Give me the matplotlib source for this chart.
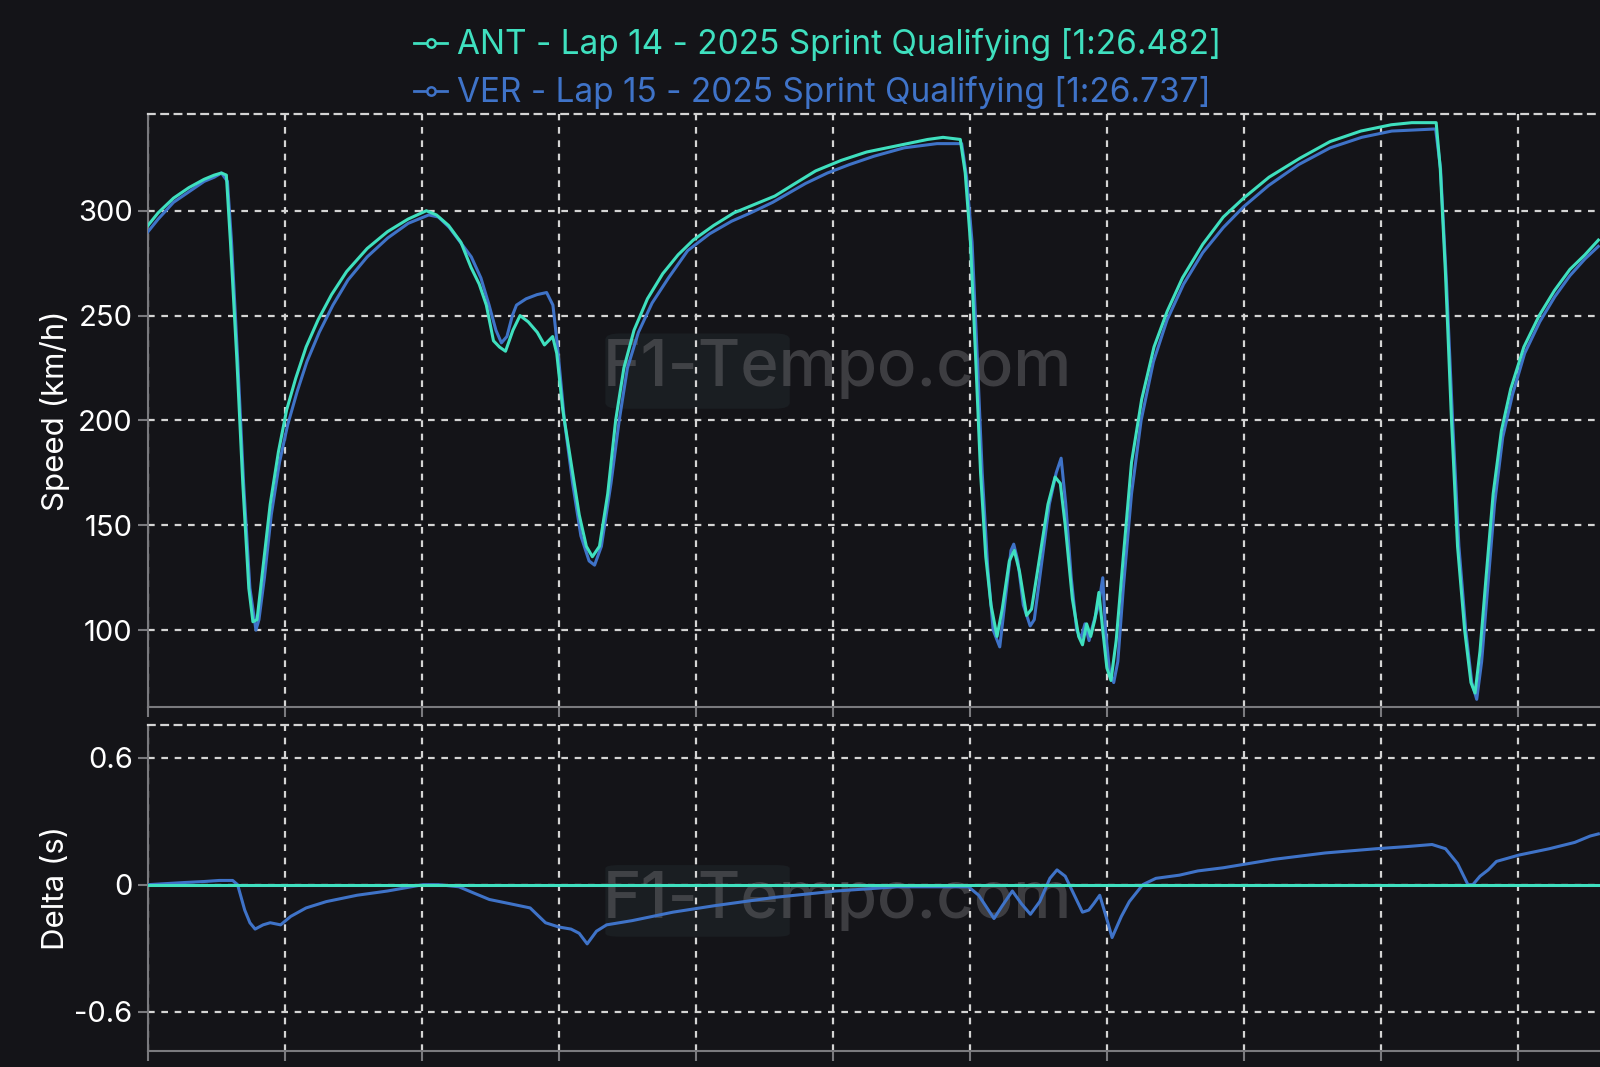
import matplotlib
matplotlib.use("Agg")
import matplotlib.pyplot as plt
from matplotlib.lines import Line2D
from matplotlib.patches import FancyBboxPatch

plt.rcParams['font.family'] = ['Inter', 'DejaVu Sans']

BG = "#141418"
GRID = "#d4d4d4"
SPINE = "#7a7a7e"
ANT_COLOR = "#3fe0bf"
VER_COLOR = "#3f73c8"

ant_label = "ANT - Lap 14 - 2025 Sprint Qualifying [1:26.482]"
ver_label = "VER - Lap 15 - 2025 Sprint Qualifying [1:26.737]"

# distance (m) / speed (km/h)
ant_dist = [0, 37, 93, 149, 205, 242, 268, 286, 301, 324, 346, 368, 383, 398, 420, 446,
            476, 506, 539, 577, 621, 670, 725, 800, 874, 949, 1016, 1053, 1097, 1142,
            1179, 1209, 1235, 1261, 1283, 1305, 1332, 1358, 1388, 1421, 1447, 1477, 1492,
            1514, 1544, 1574, 1600, 1622, 1648, 1678, 1707, 1737, 1774, 1823, 1879, 1935,
            1990, 2065, 2139, 2213, 2288, 2362, 2437, 2530, 2623, 2734, 2846, 2902, 2965,
            2983, 3002, 3021, 3039, 3058, 3077, 3099, 3118, 3144, 3162, 3181, 3207, 3225,
            3255, 3285, 3311, 3330, 3348, 3374, 3397, 3411, 3426, 3441, 3456, 3471, 3485,
            3500, 3515, 3534, 3560, 3590, 3627, 3672, 3720, 3776, 3850, 3925, 3999, 4092,
            4204, 4315, 4427, 4538, 4613, 4702, 4717, 4736, 4758, 4780, 4806, 4829, 4844,
            4862, 4884, 4910, 4940, 4974, 5022, 5078, 5134, 5190, 5245, 5294]
ant_speed = [293, 299, 306, 311, 315, 317, 318, 317, 285, 230, 170, 120, 104, 105, 130, 160,
             185, 205, 220, 235, 248, 260, 271, 282, 290, 296, 300, 298, 293, 285,
             273, 265, 255, 238, 235, 233, 243, 250, 247, 242, 236, 240, 232,
             205, 180, 155, 140, 135, 140, 165, 200, 225, 243, 258, 270, 279,
             286, 293, 299, 303, 307, 313, 319, 324, 328, 331, 334, 335, 334,
             318, 285, 230, 175, 135, 112, 97, 110, 133, 138, 128, 107, 110,
             135, 160, 173, 170, 150, 115, 97, 93, 103, 97, 105, 118, 100,
             82, 76, 95, 135, 180, 210, 235, 252, 268, 284, 297, 306, 316,
             325, 333, 338, 341, 342, 342, 320, 270, 200, 140, 100, 75, 70,
             90, 125, 165, 195, 215, 235, 250, 262, 272, 279, 286]

ver_dist = [0, 37, 93, 149, 205, 242, 268, 290, 305, 327, 349, 372, 394, 405, 425, 450,
            480, 510, 545, 580, 625, 675, 730, 800, 875, 950, 1025, 1060, 1100, 1140,
            1180, 1215, 1245, 1270, 1290, 1310, 1330, 1345, 1380, 1420, 1455, 1478, 1495,
            1520, 1550, 1580, 1610, 1630, 1655, 1690, 1720, 1750, 1790, 1840, 1900, 1970,
            2050, 2130, 2200, 2280, 2320, 2400, 2480, 2560, 2650, 2760, 2880, 2970, 2988,
            3008, 3027, 3045, 3065, 3085, 3109, 3125, 3150, 3160, 3175, 3195, 3220, 3235,
            3260, 3290, 3315, 3333, 3350, 3370, 3390, 3405, 3420, 3435, 3450, 3470, 3485,
            3495, 3510, 3525, 3540, 3560, 3590, 3625, 3670, 3720, 3780, 3850, 3925, 4000,
            4090, 4200, 4315, 4430, 4540, 4700, 4718, 4740, 4762, 4785, 4810, 4832, 4850,
            4868, 4890, 4915, 4945, 4980, 5025, 5080, 5135, 5190, 5245, 5294]
ver_speed = [290, 296, 304, 309, 314, 316, 318, 314, 285, 230, 170, 120, 100, 105, 125, 155,
             180, 198, 214, 228, 242, 255, 267, 278, 287, 294, 298, 297, 292, 285,
             278, 268, 255, 243, 237, 240, 250, 255, 258, 260, 261, 255, 235,
             200, 170, 145, 133, 131, 140, 170, 200, 225, 242, 256, 268, 281,
             289, 295, 299, 304, 307, 313, 318, 322, 326, 330, 332, 332, 316,
             285, 230, 175, 130, 100, 92, 110, 138, 141, 133, 112, 102, 105,
             130, 160, 175, 182, 160, 125, 100, 96, 103, 95, 103, 112, 125,
             100, 80, 75, 85, 120, 165, 200, 228, 248, 265, 280, 292, 302,
             312, 322, 330, 335, 338, 339, 320, 265, 200, 140, 100, 75, 67,
             85, 120, 160, 192, 212, 232, 247, 259, 269, 277, 283]

# gap of VER to ANT (s)
delta_dist = [0, 130, 205, 260, 309, 327, 353, 372, 391, 420, 446, 484, 521, 577, 651, 763,
              874, 1004, 1060, 1135, 1190, 1246, 1321, 1395, 1451, 1499, 1544, 1574, 1603,
              1637, 1674, 1767, 1916, 2065, 2288, 2511, 2734, 2995, 3032, 3088, 3118, 3155,
              3188, 3221, 3255, 3292, 3318, 3348, 3385, 3411, 3434, 3452, 3474, 3497, 3519,
              3553, 3582, 3631, 3679, 3765, 3832, 3925, 4111, 4297, 4483, 4594, 4687, 4736,
              4780, 4818, 4836, 4862, 4892, 4922, 5004, 5115, 5208, 5264, 5294]
delta_ver = [0, 0.01, 0.015, 0.02, 0.02, 0.0, -0.12, -0.18, -0.21, -0.19, -0.18, -0.19, -0.15,
             -0.11, -0.08, -0.05, -0.03, 0.0, 0.0, -0.01, -0.04, -0.07, -0.09, -0.11, -0.18,
             -0.2, -0.21, -0.23, -0.28, -0.22, -0.19, -0.17, -0.13, -0.1, -0.06, -0.03,
             -0.01, -0.01, -0.05, -0.16, -0.1, -0.03, -0.09, -0.14, -0.08, 0.03, 0.07, 0.04,
             -0.06, -0.13, -0.12, -0.09, -0.05, -0.15, -0.25, -0.15, -0.08, 0.0, 0.03, 0.045,
             0.065, 0.08, 0.12, 0.15, 0.17, 0.18, 0.19, 0.17, 0.1, 0.0, 0.0, 0.04, 0.07,
             0.11, 0.14, 0.17, 0.2, 0.23, 0.24]
delta_ant = [0, 0]
delta_ant_dist = [0, 5300]

x_ticks = list(range(0, 5500, 500))
speed_ticks = [100, 150, 200, 250, 300]
delta_ticks = [-0.6, 0, 0.6]
delta_tick_labels = ["-0.6", "0", "0.6"]


def style_axes(ax):
    ax.set_facecolor(BG)
    ax.grid(True, color=GRID, linestyle=(0, (3, 3)), linewidth=1.6)
    for side in ["left", "bottom"]:
        ax.spines[side].set_color(SPINE)
        ax.spines[side].set_linewidth(1.5)
    ax.spines["right"].set_visible(False)
    ax.spines["top"].set_color(GRID)
    ax.spines["top"].set_linestyle((0, (3, 3)))
    ax.spines["top"].set_linewidth(1.6)
    ax.tick_params(colors=SPINE, labelcolor="white", labelsize=21, length=7, width=1.5,
                   pad=4)
    ax.set_xticks(x_ticks)
    ax.set_xlim(0, 5300)
    ax.tick_params(axis="x", labelbottom=False)


def watermark(ax, y_text, y0, y1):
    ax.add_patch(FancyBboxPatch((0.315, y0), 0.127, y1 - y0, transform=ax.transAxes,
                                boxstyle="round,pad=0,rounding_size=0.01",
                                facecolor="#1a1e22", edgecolor="none", zorder=0.5))
    ax.text(0.475, y_text, "F1-Tempo.com", transform=ax.transAxes, ha="center",
            va="center", fontsize=47, fontweight="medium", color="#606064",
            alpha=0.55, zorder=1.5)


fig = plt.figure(figsize=(16, 10.67), dpi=100, facecolor=BG)
ax1 = fig.add_axes([0.0925, 0.3377, 0.9075, 0.5552])
ax2 = fig.add_axes([0.0925, 0.0153, 0.9075, 0.3052])

style_axes(ax1)
style_axes(ax2)

ax1.plot(ver_dist, ver_speed, color=VER_COLOR, linewidth=2.2, zorder=3)
ax1.plot(ant_dist, ant_speed, color=ANT_COLOR, linewidth=2.2, zorder=4)
ax1.set_ylim(63.5, 346)
ax1.set_yticks(speed_ticks)
ax1.set_ylabel("Speed (km/h)", color="white", fontsize=22.5)
watermark(ax1, 0.57, 0.503, 0.63)

ax2.plot(delta_dist, delta_ver, color=VER_COLOR, linewidth=2.2, zorder=3)
ax2.plot(delta_ant_dist, delta_ant, color=ANT_COLOR, linewidth=2.2, zorder=4)
ax2.set_ylim(-0.785, 0.755)
ax2.set_yticks(delta_ticks, delta_tick_labels)
ax2.set_ylabel("Delta (s)", color="white", fontsize=22.5)
watermark(ax2, 0.46, 0.35, 0.57)
ax1.yaxis.set_label_coords(-0.054, 0.5)
ax2.yaxis.set_label_coords(-0.054, 0.5)

handles = [
    Line2D([], [], color=ANT_COLOR, linewidth=2, marker="o", markersize=6,
           markerfacecolor=BG, markeredgewidth=1.8),
    Line2D([], [], color=VER_COLOR, linewidth=2, marker="o", markersize=6,
           markerfacecolor=BG, markeredgewidth=1.8),
]
fig.legend(handles, [ant_label, ver_label], loc="upper center",
           bbox_to_anchor=(0.511, 1.0015), frameon=False, fontsize=24,
           labelcolor="linecolor", handlelength=1.0, handletextpad=0.3,
           labelspacing=0.45)

fig.savefig("out.png", dpi=100, facecolor=BG)
